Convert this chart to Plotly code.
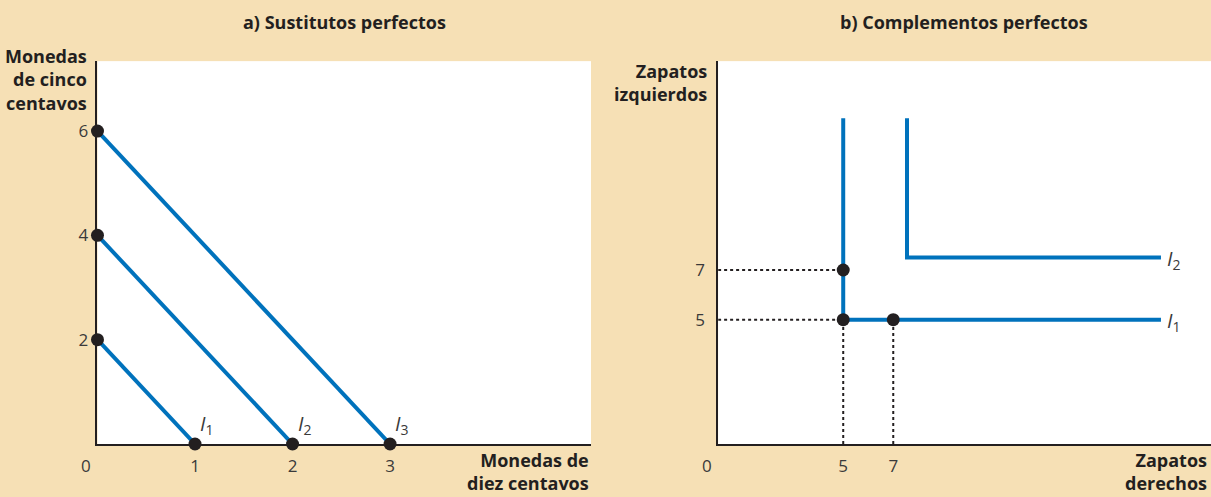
import plotly.graph_objects as go
from plotly.subplots import make_subplots

BG = "#F6E0B5"
BLUE = "#0072BC"
DOT = "#231F20"
TXT = "#231F20"
TICK = "#3A3A3A"
FONT = "Open Sans, sans-serif"

# a) perfect substitutes: dimes (x) vs nickels (y)
dime_intercepts = [1, 2, 3]
nickel_intercepts = [2, 4, 6]
sub_labels = ["1", "2", "3"]
sub_xticks = [1, 2, 3]
sub_yticks = [2, 4, 6]

# b) perfect complements: right shoes (x) vs left shoes (y)
comp_corner_x = [5, 7.55]
comp_corner_y = [5, 7.5]
comp_top = 13.1
comp_end = 17.7
comp_labels = ["1", "2"]
comp_points_x = [5, 5, 7]
comp_points_y = [7, 5, 5]
comp_ticks = [5, 7]

fig = make_subplots(rows=1, cols=2)

for x0, y0, lab in zip(dime_intercepts, nickel_intercepts, sub_labels):
    fig.add_trace(go.Scatter(x=[0, x0], y=[y0, 0], mode="lines",
                             line=dict(color=BLUE, width=4), cliponaxis=False,
                             showlegend=False), row=1, col=1)
    fig.add_trace(go.Scatter(x=[0, x0], y=[y0, 0], mode="markers",
                             marker=dict(color=DOT, size=13), cliponaxis=False,
                             showlegend=False), row=1, col=1)
    fig.add_annotation(x=x0, y=0, xref="x", yref="y", showarrow=False,
                       text=f"<i>I</i><sub>{lab}</sub>", xanchor="left",
                       yanchor="bottom", xshift=3, yshift=3,
                       font=dict(family=FONT, size=20, color=TICK))

# dotted guides on panel b
for gy in comp_points_y[:2]:
    fig.add_trace(go.Scatter(x=[0, 5], y=[gy, gy], mode="lines",
                             line=dict(color=DOT, width=2, dash="dot"),
                             showlegend=False), row=1, col=2)
for gx in comp_ticks:
    fig.add_trace(go.Scatter(x=[gx, gx], y=[0, 5], mode="lines",
                             line=dict(color=DOT, width=2, dash="dot"),
                             showlegend=False), row=1, col=2)

for cx, cy, lab in zip(comp_corner_x, comp_corner_y, comp_labels):
    fig.add_trace(go.Scatter(x=[cx, cx, comp_end], y=[comp_top, cy, cy],
                             mode="lines", line=dict(color=BLUE, width=4),
                             showlegend=False), row=1, col=2)
    fig.add_annotation(x=comp_end, y=cy, xref="x2", yref="y2", showarrow=False,
                       text=f"<i>I</i><sub>{lab}</sub>", xanchor="left",
                       yanchor="middle", xshift=4, yshift=-2,
                       font=dict(family=FONT, size=20, color=TICK))

fig.add_trace(go.Scatter(x=comp_points_x, y=comp_points_y, mode="markers",
                         marker=dict(color=DOT, size=13), cliponaxis=False,
                         showlegend=False), row=1, col=2)

axis_common = dict(showgrid=False, zeroline=False, showline=True,
                   linecolor=DOT, linewidth=1.5, ticks="",
                   tickfont=dict(family=FONT, size=17, color=TICK))

fig.update_xaxes(axis_common)
fig.update_yaxes(axis_common)
fig.update_xaxes(range=[0, 5.06], domain=[0.0805, 0.488], tickvals=sub_xticks,
                 ticklabelstandoff=6, row=1, col=1)
fig.update_yaxes(range=[0, 7.34], domain=[0.1066, 0.877], tickvals=sub_yticks,
                 ticklabelstandoff=4, row=1, col=1)
fig.update_xaxes(range=[0, 19.7], domain=[0.593, 1.0], tickvals=comp_ticks,
                 ticklabelstandoff=6, row=1, col=2)
fig.update_yaxes(range=[0, 15.4], domain=[0.1066, 0.877], tickvals=comp_ticks,
                 ticklabelstandoff=8, row=1, col=2)

bold = dict(family=FONT, size=18, color=TXT)
notes = [
    (344, 22, "<b>a) Sustitutos perfectos</b>", "center", "middle"),
    (964, 22, "<b>b) Complementos perfectos</b>", "center", "middle"),
    (89, 42, "<b>Monedas<br>de cinco<br>centavos</b>", "right", "top"),
    (709, 57, "<b>Zapatos<br>izquierdos</b>", "right", "top"),
    (591, 446, "<b>Monedas de<br>diez centavos</b>", "right", "top"),
    (1209, 446, "<b>Zapatos<br>derechos</b>", "right", "top"),
]
for x, y, t, xa, ya in notes:
    fig.add_annotation(x=x / 1211, y=1 - y / 497, xref="paper", yref="paper",
                       text=t, showarrow=False, xanchor=xa, yanchor=ya,
                       align=xa if xa != "center" else "center", font=bold)

# origin zeros
for xref, yref in [("x", "y"), ("x2", "y2")]:
    fig.add_annotation(x=0, y=0, xref=xref, yref=yref, text="0", showarrow=False,
                       xanchor="right", yanchor="top", xshift=-4, yshift=-8,
                       font=dict(family=FONT, size=17, color=TICK))

fig.update_layout(width=1211, height=497, paper_bgcolor=BG, plot_bgcolor="white",
                  margin=dict(l=0, r=0, t=0, b=0), showlegend=False,
                  font=dict(family=FONT))

fig.write_html("out.html", config={"displayModeBar": False},
               post_script="document.body.style.margin='0';"
                           "document.body.style.overflow='hidden';")
